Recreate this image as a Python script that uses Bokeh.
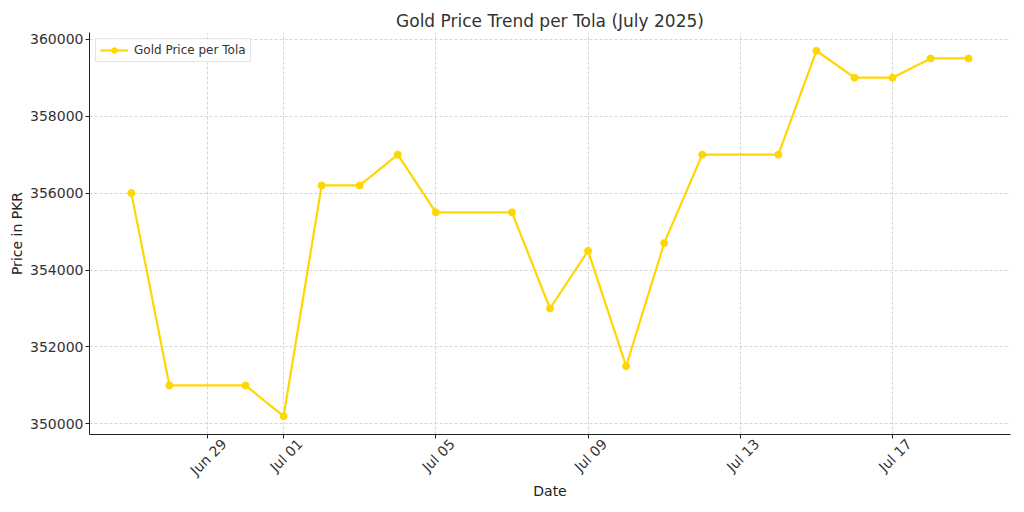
import math
import pandas as pd
from bokeh.plotting import figure
from bokeh.models import (FixedTicker, ColumnDataSource, DatetimeAxis,
                          Range1d, BasicTickFormatter, Legend, LegendItem)
from bokeh.embed import file_html
from bokeh.resources import INLINE

dates = ["2025-06-27", "2025-06-28", "2025-06-30", "2025-07-01", "2025-07-02",
         "2025-07-03", "2025-07-04", "2025-07-05", "2025-07-07", "2025-07-08",
         "2025-07-09", "2025-07-10", "2025-07-11", "2025-07-12", "2025-07-14",
         "2025-07-15", "2025-07-16", "2025-07-17", "2025-07-18", "2025-07-19"]
prices = [356000, 351000, 351000, 350200, 356200,
          356200, 357000, 355500, 355500, 353000,
          354500, 351500, 354700, 357000, 357000,
          359700, 359000, 359000, 359500, 359500]
x_tick_dates = ["2025-06-29", "2025-07-01", "2025-07-05", "2025-07-09",
                "2025-07-13", "2025-07-17"]
x_tick_labels = ["Jun 29", "Jul 01", "Jul 05", "Jul 09", "Jul 13", "Jul 17"]
y_ticks = [350000, 352000, 354000, 356000, 358000, 360000]

x = pd.to_datetime(dates)
src = ColumnDataSource(dict(x=x, y=prices))

xmin, xmax = x.min(), x.max()
xpad = (xmax - xmin) * 0.05
ymin, ymax = min(prices), max(prices)
ypad = (ymax - ymin) * 0.05

FRAME_W = 921
x_start, x_end = xmin - xpad, xmax + xpad

p = figure(width=1011, height=496, output_backend="svg", toolbar_location=None,
           x_axis_type="datetime",
           x_range=Range1d(x_start, x_end),
           y_range=Range1d(ymin - ypad, ymax + ypad),
           title="Gold Price Trend per Tola (July 2025)")
p.frame_width = FRAME_W
p.frame_height = 402
p.min_border_left = 89
p.min_border_top = 25
p.min_border_right = 1
p.min_border_bottom = 60
p.outline_line_color = None
p.background_fill_color = "white"
p.border_fill_color = "white"

p.title.align = "center"
p.title.text_font = "DejaVu Sans"
p.title.text_font_size = "17px"
p.title.text_font_style = "normal"
p.title.text_color = "#333333"
p.title.standoff = 4
p.title.padding = dict(left=0, right=0, top=6, bottom=0)

color = "#FFD700"
r_line = p.line("x", "y", source=src, line_color=color, line_width=2.2)
r_pts = p.scatter("x", "y", source=src, size=7, fill_color=color, line_color=color)

legend = Legend(items=[LegendItem(label="Gold Price per Tola", renderers=[r_line, r_pts])],
                location="top_left")
legend.label_text_font = "DejaVu Sans"
legend.label_text_font_size = "12px"
legend.label_text_color = "#333333"
legend.border_line_color = "#cccccc"
legend.border_line_width = 1
legend.background_fill_alpha = 0.8
legend.margin = 6
legend.padding = 4
legend.spacing = 0
legend.glyph_width = 28
legend.glyph_height = 14
legend.label_standoff = 6
legend.label_height = 14
p.add_layout(legend)

xt = [int(pd.Timestamp(d).value // 10**6) for d in x_tick_dates]
p.xaxis.ticker = FixedTicker(ticks=xt)
p.xaxis.major_label_overrides = {t: "" for t in xt}
p.yaxis.ticker = FixedTicker(ticks=y_ticks)
p.yaxis.formatter = BasicTickFormatter(use_scientific=False)

# second (label-only) axis: rotated labels whose box is centred on the tick
ms_per_px = (x_end - x_start).total_seconds() * 1000 / FRAME_W
shift = int(round(16.5 * ms_per_px))
xt_lab = [t + shift for t in xt]
lab_axis = DatetimeAxis(ticker=FixedTicker(ticks=xt_lab),
                        major_label_overrides=dict(zip(xt_lab, x_tick_labels)))
p.add_layout(lab_axis, "below")

for ax in (p.xaxis[0], p.yaxis[0]):
    ax.axis_line_color = "#222222"
    ax.axis_line_width = 1
    ax.major_tick_line_color = "#222222"
    ax.major_tick_out = 4
    ax.major_tick_in = 0
    ax.minor_tick_line_color = None
    ax.major_label_standoff = 2
    ax.major_label_text_font = "DejaVu Sans"
    ax.major_label_text_font_size = "14px"
    ax.major_label_text_color = "#333333"
    ax.axis_label_text_font = "DejaVu Sans"
    ax.axis_label_text_font_size = "14px"
    ax.axis_label_text_font_style = "normal"
    ax.axis_label_text_color = "#222222"
p.xaxis[0].major_label_standoff = 0

lab_axis.axis_line_color = None
lab_axis.major_tick_line_color = None
lab_axis.minor_tick_line_color = None
lab_axis.major_tick_out = 0
lab_axis.major_tick_in = 0
lab_axis.major_label_standoff = 3
lab_axis.major_label_orientation = math.pi / 4
lab_axis.major_label_text_font = "DejaVu Sans"
lab_axis.major_label_text_font_size = "14px"
lab_axis.major_label_text_color = "#333333"
lab_axis.axis_label = "Date"
lab_axis.axis_label_text_font = "DejaVu Sans"
lab_axis.axis_label_text_font_size = "14px"
lab_axis.axis_label_text_font_style = "normal"
lab_axis.axis_label_text_color = "#222222"
lab_axis.axis_label_standoff = -4

p.yaxis.axis_label_standoff = 2
p.yaxis.axis_label = "Price in PKR"

for g in (p.xgrid, p.ygrid):
    g.grid_line_color = "#cccccc"
    g.grid_line_dash = "3 2"
    g.grid_line_width = 0.8
p.xgrid[0].ticker = p.xaxis[0].ticker

open("out.html", "w").write(file_html(p, INLINE))
